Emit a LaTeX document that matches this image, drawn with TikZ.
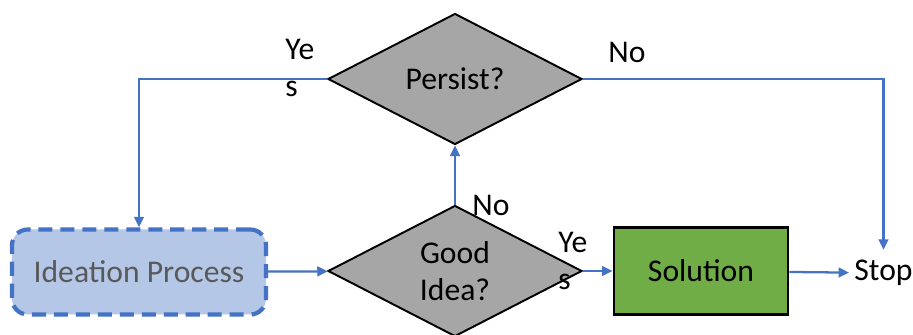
\documentclass[tikz,border=0pt]{standalone}
\usepackage{fontspec}
\setmainfont{Carlito}
\usetikzlibrary{positioning}
\usetikzlibrary{shapes.geometric}
\usetikzlibrary{arrows.meta}
\definecolor{linkblue}{HTML}{4472C4}
\definecolor{ideafill}{HTML}{B4C7E7}
\definecolor{solfill}{HTML}{70AD47}
\definecolor{decfill}{HTML}{A6A6A6}
\definecolor{softtext}{HTML}{595959}

\begin{document}
\begin{tikzpicture}[
  font=\fontsize{18}{21}\selectfont,
  process/.style={draw=linkblue, line width=2.4pt, dash pattern=on 8pt off 4.5pt,
    rounded corners=9pt, fill=ideafill, text=softtext,
    minimum width=5.08cm, minimum height=1.7cm},
  decision/.style={diamond, draw, line width=1.1pt, fill=decfill, align=center,
    inner sep=0pt, minimum width=5.08cm, minimum height=2.62cm},
  result/.style={draw, line width=1.6pt, fill=solfill,
    minimum width=3.48cm, minimum height=1.74cm},
  arrow/.style={-{Triangle[length=6pt, width=5.5pt]}, draw=linkblue, line width=1.3pt},
  tag/.style={align=left, inner sep=0pt}
]
\useasboundingbox (0,0) rectangle (18.26,6.7);

% Main row
\node[process] (ideation) at (2.78,1.26) {Ideation Process};
\node[decision] (good) at (9.1,1.28) {Good\\Idea?};
\node[result] (solution) at (14.02,1.28) {Solution};
\node[inner sep=0.1cm] (stop) at (17.67,1.24) {Stop};

% Loop back
\node[decision] (persist) at (9.1,5.12) {Persist?};

\draw[arrow] (ideation) -- (good);
\draw[arrow] (good) -- (solution);
\draw[arrow] (solution) -- (stop);
\draw[arrow] (good.north) -- (persist.south);
\draw[arrow] (persist.west) -| (ideation.north);
\draw[arrow] (persist.east) -| ([yshift=0.1cm]stop.north);

% Branch labels
\node[tag, anchor=north west] (yesloop) at (5.7,5.92) {Ye\\s};
\node[tag] (noloop) at (12.54,5.66) {No};
\node[tag] (nogood) at (9.82,2.6) {No};
\node[tag, anchor=north west] (yesgood) at (11.16,2.06) {Ye\\s};

\end{tikzpicture}
\end{document}
